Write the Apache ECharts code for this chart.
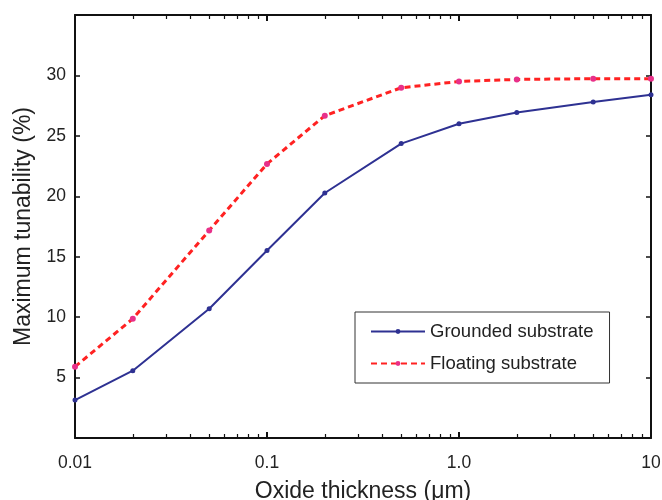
<!DOCTYPE html>
<html>
<head>
<meta charset="utf-8">
<script src="https://cdn.jsdelivr.net/npm/echarts@6/dist/echarts.min.js"></script>
<style>
  html, body { margin: 0; padding: 0; background: #fff; }
  #chart { width: 662px; height: 500px; }
</style>
</head>
<body>
<div id="chart"></div>
<script>
// oxide thickness (um)
const thickness = [0.01, 0.02, 0.05, 0.1, 0.2, 0.5, 1, 2, 5, 10];
const grounded = [3.14, 5.57, 10.69, 15.51, 20.27, 24.36, 26.0, 26.94, 27.8, 28.4];
const floating = [5.9, 9.87, 17.17, 22.68, 26.67, 28.98, 29.5, 29.67, 29.73, 29.73];
const xTickLabels = { 0.01: "0.01", 0.1: "0.1", 1: "1.0", 10: "10" };
const yTickLabels = [5, 10, 15, 20, 25, 30];

const font = "Liberation Sans, Arial, sans-serif";

// fresh objects for every axis so nothing is shared between them
function xBase() {
  return {
    type: "log",
    logBase: 10,
    min: 0.01,
    max: 10,
    axisLine: { show: true, onZero: false, lineStyle: { color: "#111", width: 2 } },
    axisTick: { show: true, inside: true, length: 6, lineStyle: { color: "#111", width: 2 } },
    minorTick: { show: true, splitNumber: 9, length: 4, lineStyle: { color: "#111", width: 1.2 } },
    splitLine: { show: false },
  };
}
function yBase() {
  return {
    type: "value",
    min: 0,
    max: 35,
    interval: 5,
    axisLine: { show: true, onZero: false, lineStyle: { color: "#111", width: 2 } },
    axisTick: { show: true, inside: true, length: 5, lineStyle: { color: "#111", width: 1.5 } },
    splitLine: { show: false },
  };
}

const chart = echarts.init(document.getElementById("chart"));
chart.setOption({
  animation: false,
  grid: { left: 75, right: 11, top: 15, bottom: 62, outerBoundsMode: "none" },
  xAxis: [
    {
      ...xBase(),
      position: "bottom",
      name: "Oxide thickness (μm)",
      nameLocation: "middle",
      nameGap: 42,
      nameTextStyle: { fontFamily: font, fontSize: 23, color: "#222" },
      axisLabel: {
        margin: 16,
        fontFamily: font,
        fontSize: 17.5,
        color: "#222",
        formatter: (v) => xTickLabels[+v.toPrecision(3)] || "",
      },
    },
    { ...xBase(), position: "top", axisLabel: { show: false } },
  ],
  yAxis: [
    {
      ...yBase(),
      position: "left",
      name: "Maximum tunability (%)",
      nameLocation: "middle",
      nameGap: 37,
      nameTextStyle: { fontFamily: font, fontSize: 23, color: "#222" },
      axisLabel: {
        margin: 9,
        fontFamily: font,
        fontSize: 17.5,
        color: "#222",
        formatter: (v) => (yTickLabels.includes(v) ? String(v) : ""),
      },
    },
    { ...yBase(), position: "right", axisLabel: { show: false } },
  ],
  legend: {
    left: 355,
    top: 312,
    orient: "vertical",
    itemWidth: 54,
    itemHeight: 6,
    itemGap: 13,
    padding: [10, 16, 10, 15],
    borderColor: "#333",
    borderWidth: 1,
    borderRadius: 0,
    textStyle: { fontFamily: font, fontSize: 18.5, color: "#222" },
    data: ["Grounded substrate", "Floating substrate"],
  },
  series: [
    {
      name: "Grounded substrate",
      type: "line",
      data: thickness.map((t, i) => [t, grounded[i]]),
      symbol: "circle",
      symbolSize: 5,
      lineStyle: { color: "#2e3192", width: 2 },
      itemStyle: { color: "#2e3192" },
    },
    {
      name: "Floating substrate",
      type: "line",
      data: thickness.map((t, i) => [t, floating[i]]),
      symbol: "circle",
      symbolSize: 6,
      lineStyle: { color: "#ff2222", width: 3, type: [6, 4] },
      itemStyle: { color: "#e8308a" },
    },
  ],
});
</script>
</body>
</html>
